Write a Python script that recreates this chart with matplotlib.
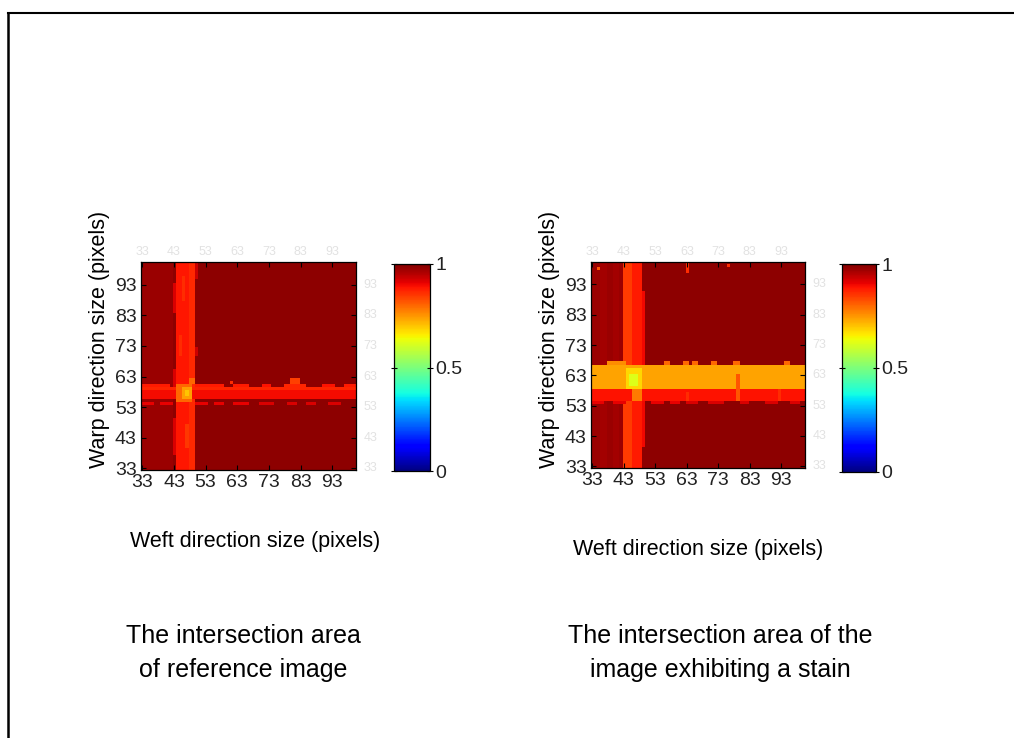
import numpy as np
import matplotlib
matplotlib.use("Agg")
import matplotlib.pyplot as plt
from matplotlib.lines import Line2D

plt.rcParams["font.family"] = ["Liberation Sans", "DejaVu Sans"]

FIG_W, FIG_H = 1014, 738

# Pixel coordinates along each direction of the crossing patch
weft_px = np.arange(33, 101)
warp_px = np.arange(33, 101)
tick_values = [33, 43, 53, 63, 73, 83, 93]
cbar_ticks = [0, 0.5, 1]
cbar_labels = ["0", "0.5", "1"]

x_label = "Weft direction size (pixels)"
y_label = "Warp direction size (pixels)"
caption_reference = "The intersection area\nof reference image"
caption_stain = "The intersection area of the\nimage exhibiting a stain"

background_level = 0.985

# Normalised response of the reference crossing, as rectangles
# (weft from, weft to, warp from, warp to, level); later entries overwrite earlier ones.
reference_regions = [
    (33, 42, 33, 100, 0.975),
    (44, 47, 33, 100, 0.885),
    (48, 49, 33, 100, 0.865),
    (45, 45, 70, 76, 0.86), (46, 46, 88, 95, 0.86), (47, 47, 40, 47, 0.85),
    (43, 43, 84, 93, 0.92), (43, 43, 60, 65, 0.92), (43, 43, 38, 49, 0.92),
    (50, 50, 95, 100, 0.93), (50, 50, 70, 72, 0.93),
    (33, 100, 56, 58, 0.895),
    (33, 100, 59, 59, 0.87),
    (33, 41, 60, 60, 0.88), (50, 58, 60, 60, 0.88), (62, 66, 60, 60, 0.88),
    (71, 73, 60, 60, 0.89), (78, 84, 60, 60, 0.87), (90, 93, 60, 60, 0.89),
    (97, 100, 60, 60, 0.88),
    (33, 36, 54, 54, 0.91), (39, 42, 54, 54, 0.91), (50, 53, 54, 54, 0.91),
    (56, 58, 54, 54, 0.91), (62, 66, 54, 54, 0.91), (70, 74, 54, 54, 0.92),
    (79, 81, 54, 54, 0.92), (85, 87, 54, 54, 0.92), (92, 95, 54, 54, 0.92),
    (44, 48, 55, 60, 0.80),
    (46, 48, 56, 59, 0.74),
    (47, 47, 57, 58, 0.70),
    (48, 49, 61, 62, 0.80),
    (80, 82, 61, 62, 0.84), (61, 61, 61, 61, 0.86),
]

# Normalised response of the stained crossing
stain_regions = [
    (33, 42, 33, 100, 0.975),
    (36, 37, 33, 100, 0.965), (40, 41, 33, 100, 0.965),
    (43, 45, 33, 100, 0.845),
    (46, 48, 33, 100, 0.88),
    (49, 49, 40, 90, 0.9),
    (33, 100, 55, 58, 0.89),
    (33, 36, 54, 54, 0.91), (40, 43, 54, 54, 0.91), (52, 55, 54, 54, 0.91),
    (58, 60, 54, 54, 0.91), (63, 66, 54, 54, 0.92), (70, 74, 54, 54, 0.92),
    (80, 82, 54, 54, 0.92), (88, 91, 54, 54, 0.92), (96, 98, 54, 54, 0.92),
    (33, 100, 59, 66, 0.735),
    (38, 43, 67, 67, 0.76), (56, 57, 67, 67, 0.8), (62, 63, 67, 67, 0.8),
    (65, 66, 67, 67, 0.8), (71, 72, 67, 67, 0.8), (78, 79, 67, 67, 0.8),
    (94, 95, 67, 67, 0.8),
    (44, 48, 59, 65, 0.68),
    (45, 47, 60, 63, 0.62),
    (46, 48, 55, 58, 0.78),
    (79, 79, 55, 63, 0.82), (92, 92, 55, 58, 0.86), (63, 63, 55, 57, 0.86),
    (63, 63, 97, 100, 0.86), (76, 76, 99, 99, 0.86), (35, 35, 98, 98, 0.82),
]


def px(x, y):
    """Pixel position (from top-left) to figure fraction."""
    return x / FIG_W, 1 - y / FIG_H


def build_grid(regions):
    grid = np.full((len(warp_px), len(weft_px)), background_level)
    for x0, x1, y0, y1, level in regions:
        cols = (weft_px >= x0) & (weft_px <= x1)
        rows = (warp_px >= y0) & (warp_px <= y1)
        grid[np.ix_(rows, cols)] = level
    return grid


def draw_map(fig, rect, cbar_rect, regions):
    ax = fig.add_axes(rect)
    extent = (weft_px[0] - 0.5, weft_px[-1] + 0.5, warp_px[0] - 0.5, warp_px[-1] + 0.5)
    im = ax.imshow(build_grid(regions), cmap="jet", vmin=0, vmax=1, origin="lower",
                   extent=extent, aspect="auto", interpolation="nearest")
    ax.set_xticks(tick_values)
    ax.set_yticks(tick_values)
    ax.set_xticklabels([str(v) for v in tick_values])
    ax.set_yticklabels([str(v) for v in tick_values])
    ax.tick_params(direction="in", top=True, right=True, length=3.5, width=0.8,
                   labelsize=14, colors="black", pad=3)
    ax.tick_params(labelcolor="#222222")
    for s in ax.spines.values():
        s.set_linewidth(0.9)
    # faint echo of the tick labels on the opposite sides
    for v in tick_values:
        ax.text(v, 1.018, str(v), transform=ax.get_xaxis_transform(), ha="center",
                va="bottom", fontsize=9, color="#e2e2e2")
        ax.text(1.035, v, str(v), transform=ax.get_yaxis_transform(), ha="left",
                va="center", fontsize=9, color="#e2e2e2")

    cax = fig.add_axes(cbar_rect)
    cb = fig.colorbar(im, cax=cax, ticks=cbar_ticks)
    cb.set_ticklabels(cbar_labels)
    cb.outline.set_linewidth(0.9)
    cax.tick_params(direction="inout", left=True, right=True, length=4, width=0.8,
                    labelsize=14, pad=2, labelcolor="#222222")
    return ax


fig = plt.figure(figsize=(FIG_W / 100, FIG_H / 100), dpi=100)
fig.patch.set_facecolor("white")

draw_map(fig, [140.7 / FIG_W, 1 - 470 / FIG_H, 215.3 / FIG_W, 208.3 / FIG_H],
         [394 / FIG_W, 1 - 471 / FIG_H, 36 / FIG_W, 207 / FIG_H], reference_regions)
draw_map(fig, [590.7 / FIG_W, 1 - 468 / FIG_H, 214.3 / FIG_W, 206.3 / FIG_H],
         [842 / FIG_W, 1 - 472 / FIG_H, 34 / FIG_W, 208 / FIG_H], stain_regions)

# axis titles
fig.text(*px(255, 542), x_label, ha="center", va="center", fontsize=15.5)
fig.text(*px(698, 550), x_label, ha="center", va="center", fontsize=15.5)
fig.text(*px(100, 339), y_label, ha="center", va="center", rotation=90, fontsize=15.5)
fig.text(*px(550, 339), y_label, ha="center", va="center", rotation=90, fontsize=15.5)

# captions under each map
fig.text(*px(243, 653), caption_reference, ha="center", va="center", fontsize=18,
         linespacing=1.5)
fig.text(*px(720, 653), caption_stain, ha="center", va="center", fontsize=18,
         linespacing=1.5)

# page frame on the left and top
fig.add_artist(Line2D([8 / FIG_W, 8 / FIG_W], [0, 1 - 12.5 / FIG_H], color="black",
                      linewidth=1.8, transform=fig.transFigure))
fig.add_artist(Line2D([8 / FIG_W, 1], [1 - 12.5 / FIG_H, 1 - 12.5 / FIG_H], color="black",
                      linewidth=1.5, transform=fig.transFigure))

fig.savefig("out.png", dpi=100)
